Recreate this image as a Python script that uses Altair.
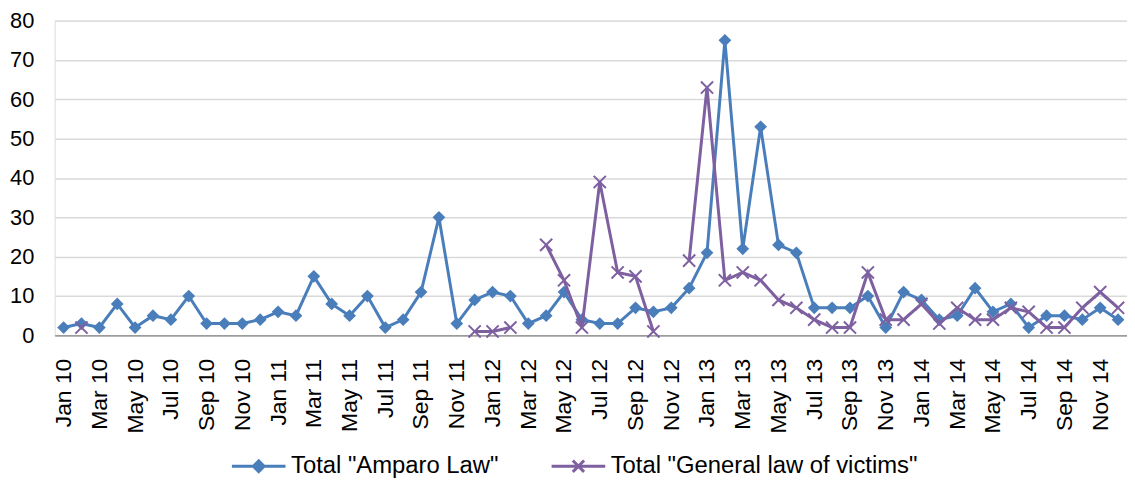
import altair as alt
import pandas as pd

years = ["10", "11", "12", "13", "14"]
month_names = ["Jan", "Feb", "Mar", "Apr", "May", "Jun",
               "Jul", "Aug", "Sep", "Oct", "Nov", "Dec"]
months = [f"{m} {y}" for y in years for m in month_names]

amparo = [2, 3, 2, 8, 2, 5, 4, 10, 3, 3, 3, 4,
          6, 5, 15, 8, 5, 10, 2, 4, 11, 30, 3, 9,
          11, 10, 3, 5, 11, 4, 3, 3, 7, 6, 7, 12,
          21, 75, 22, 53, 23, 21, 7, 7, 7, 10, 2, 11,
          9, 4, 5, 12, 6, 8, 2, 5, 5, 4, 7, 4]

victims = [None, 2, None, None, None, None, None, None, None, None, None, None,
           None, None, None, None, None, None, None, None, None, None, None, 1,
           1, 2, None, 23, 14, 2, 39, 16, 15, 1, None, 19,
           63, 14, 16, 14, 9, 7, 4, 2, 2, 16, 4, 4,
           8, 3, 7, 4, 4, 7, 6, 2, 2, 7, 11, 7]

series_names = ['Total "Amparo Law"', 'Total "General law of victims"']
BLUE = "#4A7EBB"
PURPLE = "#7E60A1"
FONT = "Liberation Sans"

rows = []
for m, a in zip(months, amparo):
    rows.append({"month": m, "value": a, "series": series_names[0], "seg": "a0"})
seg = 0
for m, v in zip(months, victims):
    if v is None:
        seg += 1
        continue
    rows.append({"month": m, "value": v, "series": series_names[1], "seg": f"v{seg}"})
df = pd.DataFrame(rows)

color_scale = alt.Scale(domain=series_names, range=[BLUE, PURPLE])

x_enc = alt.X(
    "month:O", sort=months, title=None,
    scale=alt.Scale(type="point", padding=0.5),
    axis=alt.Axis(values=months[::2], labelAngle=270, labelFont=FONT,
                  labelFontSize=23, labelColor="#000000", ticks=False,
                  tickSize=0, labelPadding=23, domainColor="#868686",
                  domainWidth=1.5, grid=False),
)
y_enc = alt.Y(
    "value:Q", title=None,
    scale=alt.Scale(domain=[0, 80]),
    axis=alt.Axis(values=list(range(0, 81, 10)), labelFont=FONT,
                  labelFontSize=22, labelColor="#000000", ticks=False,
                  tickSize=0, labelPadding=21, domain=False,
                  gridColor="#D9D9D9", gridWidth=1.5,
                  minExtent=47, maxExtent=47),
)

# legend symbols: a line with the series marker
LINE = "M-1,0H1"
DIAMOND = "M-0.2,0L0,-0.2L0.2,0L0,0.2Z"
XMARK = "M-0.21,-0.21L0.21,0.21M-0.21,0.21L0.21,-0.21"
sym_expr = (f"indexof(datum.value, 'Amparo') >= 0 ? '{LINE}{DIAMOND}' "
            f": '{LINE}{XMARK}'")
fill_expr = f"indexof(datum.value, 'Amparo') >= 0 ? '{BLUE}' : 'transparent'"

legend = alt.Legend(
    title=None, orient="none", direction="horizontal",
    legendX=177, legendY=420,
    symbolType=alt.ExprRef(expr=sym_expr),
    symbolFillColor=alt.ExprRef(expr=fill_expr),
    symbolSize=2916, symbolStrokeWidth=3, labelFont=FONT,
    labelFontSize=24, labelColor="#000000", labelOffset=4,
    labelLimit=600, columnPadding=46,
)

base = alt.Chart(df)


def series_layers(name, shape, filled, size, sw, lg):
    data = base.transform_filter(alt.FieldEqualPredicate(field="series", equal=name))
    color_kwargs = {"scale": color_scale}
    if lg is not None:
        color_kwargs["legend"] = lg
    line = data.mark_line(strokeWidth=3).encode(
        x=x_enc, y=y_enc,
        color=alt.Color("series:N", **color_kwargs),
        detail="seg:N",
    )
    pts = data.mark_point(shape=shape, filled=filled, size=size,
                          strokeWidth=sw, opacity=1).encode(
        x=x_enc, y=y_enc,
        color=alt.Color("series:N", scale=color_scale),
    )
    return [line, pts]


layers = (series_layers(series_names[0], "diamond", True, 165, 1.5, legend)
          + series_layers(series_names[1],
                          "M-1,-1L1,1M-1,1L1,-1", False, 150, 2, None))

chart = alt.layer(*layers).properties(
    width=1080, height=317,
    autosize=alt.AutoSizeParams(type="none"),
    padding={"left": 47, "top": 11, "right": 0, "bottom": 153},
).configure_view(stroke=None).configure(background="white")

chart.save("out.html", embed_options={"renderer": "svg", "actions": False})
